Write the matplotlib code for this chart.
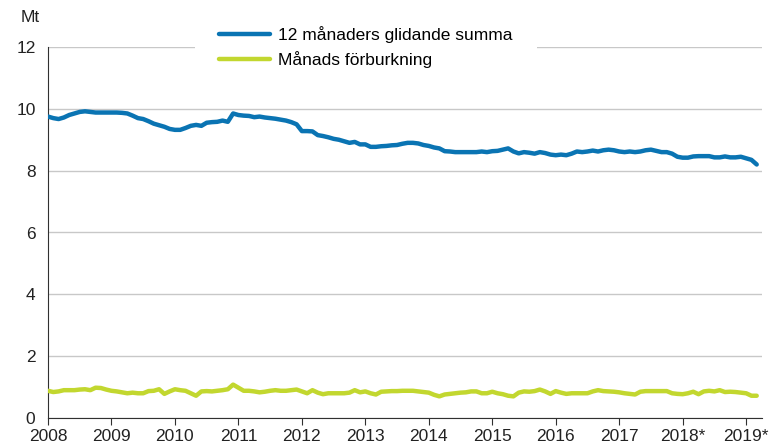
import matplotlib
matplotlib.use("Agg")
import matplotlib.pyplot as plt
import numpy as np

plt.rcParams['font.family'] = ['Liberation Sans', 'DejaVu Sans']

years = ['2008', '2009', '2010', '2011', '2012', '2013', '2014', '2015',
         '2016', '2017', '2018*', '2019*']

rolling_sum = [
    9.75, 9.70, 9.67, 9.72, 9.80, 9.85, 9.90, 9.92, 9.90, 9.88, 9.88, 9.88,
    9.88, 9.88, 9.87, 9.85, 9.78, 9.70, 9.67, 9.60, 9.52, 9.47, 9.42, 9.35,
    9.32, 9.32, 9.38, 9.45, 9.48, 9.45, 9.55, 9.57, 9.58, 9.62, 9.58, 9.85,
    9.80, 9.78, 9.77, 9.73, 9.75, 9.72, 9.70, 9.68, 9.65, 9.62, 9.57, 9.50,
    9.28, 9.28, 9.27, 9.15, 9.12, 9.08, 9.03, 9.00, 8.95, 8.90, 8.93, 8.85,
    8.85, 8.77, 8.77, 8.79, 8.80, 8.82, 8.83, 8.87, 8.90, 8.90, 8.88, 8.83,
    8.80, 8.75, 8.72, 8.63, 8.62, 8.60, 8.60, 8.60, 8.60, 8.60, 8.62, 8.60,
    8.63, 8.64, 8.68, 8.72, 8.62, 8.56, 8.60, 8.58, 8.55, 8.60, 8.57, 8.52,
    8.50, 8.52, 8.50, 8.55, 8.62, 8.60, 8.62, 8.65, 8.62, 8.66, 8.68, 8.66,
    8.62, 8.60, 8.62, 8.60, 8.62, 8.66, 8.68, 8.64, 8.60, 8.60, 8.55, 8.45,
    8.42, 8.42, 8.46, 8.47, 8.47, 8.47, 8.43, 8.43, 8.46, 8.43, 8.43, 8.45,
    8.40, 8.35, 8.20,
]

monthly = [
    0.88, 0.84, 0.86, 0.90, 0.90, 0.90, 0.92, 0.93, 0.90, 0.98, 0.97, 0.92,
    0.88, 0.86, 0.83, 0.80, 0.82, 0.80, 0.80, 0.87, 0.88, 0.93, 0.78, 0.86,
    0.93, 0.90, 0.88, 0.80, 0.72, 0.86, 0.87, 0.86, 0.88, 0.90, 0.93, 1.08,
    0.98, 0.88, 0.88, 0.86, 0.83, 0.85, 0.88, 0.90, 0.88, 0.88, 0.90, 0.92,
    0.86, 0.80, 0.90, 0.82, 0.77, 0.80, 0.80, 0.80, 0.80, 0.82, 0.90, 0.83,
    0.86, 0.80, 0.76, 0.85, 0.86, 0.87, 0.87, 0.88, 0.88, 0.88, 0.86, 0.84,
    0.82, 0.75, 0.70, 0.76, 0.78, 0.80, 0.82, 0.83, 0.86, 0.86, 0.80, 0.80,
    0.85, 0.80, 0.77, 0.72, 0.70, 0.82, 0.86, 0.85, 0.87, 0.92, 0.86, 0.78,
    0.87, 0.82, 0.78, 0.80, 0.80, 0.80, 0.80, 0.86, 0.90, 0.87, 0.86, 0.85,
    0.83, 0.80, 0.78, 0.76, 0.85, 0.87, 0.87, 0.87, 0.87, 0.87, 0.80, 0.78,
    0.77, 0.80, 0.85, 0.77, 0.86, 0.88, 0.86, 0.90, 0.84, 0.85, 0.84, 0.82,
    0.80, 0.72, 0.72,
]

labels = ['12 månaders glidande summa', 'Månads förburkning']

x = np.arange(len(rolling_sum))

fig = plt.figure(figsize=(7.76, 4.48), dpi=100)
ax = fig.add_axes([48/776, 30/448, 714/776, 371/448])

blue = '#0A74B3'
green = '#C2D72F'

ax.plot(x, rolling_sum, color=blue, lw=3.2, label=labels[0], solid_capstyle='round', zorder=3)
ax.plot(x, monthly, color=green, lw=3.2, label=labels[1], solid_capstyle='round', zorder=3)

ax.set_xlim(0, 135)
ax.set_ylim(0, 12)
ax.set_yticks(np.arange(0, 13, 2))
ax.set_xticks(np.arange(0, 12*len(years), 12))
ax.set_xticklabels(years)
ax.grid(axis='y', color='#C8C8C8', lw=1)
ax.set_axisbelow(True)
for s in ['top', 'right']:
    ax.spines[s].set_visible(False)
ax.spines['left'].set_color('#303030')
ax.spines['bottom'].set_color('#303030')
ax.tick_params(axis='y', length=0, labelsize=12.5, pad=9)
ax.tick_params(axis='x', length=5, labelsize=12.5, pad=3, direction='out', colors='#303030')
for t in ax.get_xticklabels() + ax.get_yticklabels():
    t.set_color('#222222')

fig.text(21/776, 1 - 18/448, 'Mt', fontsize=12.5, va='center', ha='left', color='#222222')

leg = fig.legend(loc='center', bbox_to_anchor=(366/776, 1 - 47/448), frameon=True,
                 fontsize=12.5, handlelength=2.9, handletextpad=0.5, labelspacing=0.45,
                 borderpad=1.4, fancybox=False)
leg.get_frame().set_facecolor('white')
leg.get_frame().set_edgecolor('none')
leg.get_frame().set_alpha(1)

fig.savefig('out.png', dpi=100)
